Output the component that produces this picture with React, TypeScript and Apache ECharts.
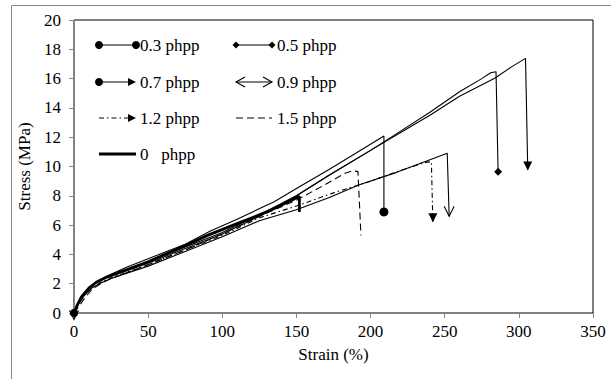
import { useEffect, useRef } from 'react';
import * as echarts from 'echarts';

// ---- data (strain %, stress MPa) ----
const strain03 = [0, 2, 5, 10, 15, 22, 35, 50, 75, 92, 110, 135, 150, 172, 190, 209, 209];
const stress03 = [0, 0.5, 1.1, 1.7, 2.1, 2.5, 3.1, 3.7, 4.7, 5.6, 6.4, 7.6, 8.5, 9.8, 10.9, 12.08, 6.9];

const strain05 = [0, 2, 5, 10, 15, 22, 50, 75, 100, 125, 150, 172, 200, 220, 240, 260, 275, 281, 284.6, 286];
const stress05 = [0, 0.5, 1.1, 1.7, 2.1, 2.4, 3.4, 4.4, 5.4, 6.6, 8.0, 9.4, 11.1, 12.4, 13.7, 15.1, 16.0, 16.4, 16.47, 9.65];

const strain07 = [0, 2, 5, 10, 15, 22, 50, 75, 100, 125, 150, 172, 200, 220, 240, 260, 284, 295, 304.5, 306];
const stress07 = [0, 0.5, 1.1, 1.7, 2.1, 2.45, 3.5, 4.5, 5.5, 6.7, 8.0, 9.4, 11.1, 12.3, 13.5, 14.8, 16.04, 16.8, 17.38, 9.76];

const strain09 = [0, 3, 7, 12, 18, 25, 50, 75, 100, 125, 150, 172.6, 192, 217.6, 251.7, 253];
const stress09 = [0, 0.6, 1.2, 1.7, 2.05, 2.35, 3.2, 4.2, 5.2, 6.3, 7.05, 7.9, 8.74, 9.6, 10.9, 6.6];

const strain12 = [0, 3, 7, 12, 18, 25, 50, 75, 100, 125, 150, 175, 200, 218, 230, 237, 241, 242];
const stress12 = [0, 0.6, 1.2, 1.7, 2.1, 2.4, 3.3, 4.3, 5.3, 6.5, 7.3, 8.2, 9.0, 9.65, 10.05, 10.28, 10.33, 6.23];

const strain15 = [0, 3, 7, 12, 18, 25, 50, 75, 100, 125, 150, 170, 182, 188, 191.5, 193.5];
const stress15 = [0, 0.4, 1.0, 1.6, 2.0, 2.35, 3.3, 4.3, 5.4, 6.6, 7.7, 8.8, 9.5, 9.71, 9.65, 5.3];

const strain00 = [0, 2, 5, 10, 15, 22, 50, 75, 90, 110, 130, 152, 152];
const stress00 = [0, 0.5, 1.1, 1.7, 2.1, 2.45, 3.5, 4.6, 5.3, 6.1, 6.9, 7.96, 6.9];

const seriesNames = ['0.3 phpp', '0.5 phpp', '0.7 phpp', '0.9 phpp', '1.2 phpp', '1.5 phpp', '0   phpp'];
const xTicks = { min: 0, max: 350, interval: 50 };
const yTicks = { min: 0, max: 20, interval: 2 };

const FONT = "'Liberation Serif', 'Times New Roman', serif";
const FS = 17;
const DOWN_TRI = 'path://M0,0L10,0L5,10Z';
const OPEN_V = 'path://M0,0L5,10L10,0';

type Marker = { symbol: string; size: number; offset?: [number, number]; open?: boolean };

function build(xs: number[], ys: number[], start?: Marker, end?: Marker) {
  return xs.map((x, i) => {
    const m = i === 0 ? start : i === xs.length - 1 ? end : undefined;
    if (!m) return [x, ys[i]];
    return {
      value: [x, ys[i]],
      symbol: m.symbol,
      symbolSize: m.size,
      symbolKeepAspect: true,
      symbolOffset: m.offset || [0, 0],
      itemStyle: m.open
        ? { color: 'none', borderColor: '#000', borderWidth: 1.1 }
        : { color: '#000', borderWidth: 0 },
    };
  });
}

function lineSeries(name: string, data: any[], width: number, type: any) {
  return {
    type: 'line',
    name,
    data,
    symbol: 'none',
    showSymbol: true,
    smooth: false,
    lineStyle: { color: '#000', width, type },
    itemStyle: { color: '#000' },
    z: 3,
  };
}

// legend drawing helpers (graphic elements)
function legendLine(x1: number, x2: number, y: number, width = 1, dash?: number[]) {
  return {
    type: 'line',
    shape: { x1, y1: y, x2, y2: y },
    style: { stroke: '#000', lineWidth: width, lineDash: dash },
  };
}
function dot(cx: number, cy: number, r = 4) {
  return { type: 'circle', shape: { cx, cy, r }, style: { fill: '#000' } };
}
function diamond(cx: number, cy: number, r = 3.5) {
  return {
    type: 'polygon',
    shape: { points: [[cx - r, cy], [cx, cy - r], [cx + r, cy], [cx, cy + r]] },
    style: { fill: '#000' },
  };
}
function arrowRight(tx: number, y: number) {
  return {
    type: 'polygon',
    shape: { points: [[tx, y], [tx - 8, y - 4], [tx - 8, y + 4]] },
    style: { fill: '#000' },
  };
}
function openArrow(tx: number, y: number, dir: number) {
  return {
    type: 'polyline',
    shape: { points: [[tx - dir * 9, y - 5], [tx, y], [tx - dir * 9, y + 5]] },
    style: { stroke: '#000', lineWidth: 1.1, fill: null },
  };
}
function label(x: number, y: number, text: string) {
  return {
    type: 'text',
    x,
    y,
    style: { text, fontSize: FS, fontFamily: FONT, fill: '#000', verticalAlign: 'middle', align: 'left' },
  };
}

export default function App() {
  const ref = useRef<HTMLDivElement>(null);
  useEffect(() => {
    if (!ref.current) return;
    const chart = echarts.init(ref.current, undefined, { renderer: 'svg' });
    const r1 = 45, r2 = 82, r3 = 118, r4 = 154;
    const c1a = 99, c1b = 136, c2a = 236, c2b = 272;
    const t1 = 140, t2 = 277;
    chart.setOption({
      animation: false,
      backgroundColor: '#fff',
      textStyle: { fontFamily: FONT },
      grid: {
        left: 74,
        top: 20,
        right: 18,
        bottom: 66,
        show: true,
        borderColor: '#000',
        borderWidth: 1,
        backgroundColor: 'transparent',
      },
      xAxis: {
        type: 'value',
        min: xTicks.min,
        max: xTicks.max,
        interval: xTicks.interval,
        name: 'Strain (%)',
        nameLocation: 'middle',
        nameGap: 33,
        nameTextStyle: { fontFamily: FONT, fontSize: FS, color: '#000' },
        axisLine: { show: true, onZero: false, lineStyle: { color: '#868686', width: 1 } },
        axisTick: { show: true, inside: false, length: 5, lineStyle: { color: '#868686' } },
        axisLabel: { fontFamily: FONT, fontSize: FS, color: '#000', margin: 10 },
        splitLine: { show: false },
      },
      yAxis: {
        type: 'value',
        min: yTicks.min,
        max: yTicks.max,
        interval: yTicks.interval,
        name: 'Stress (MPa)',
        nameLocation: 'middle',
        nameGap: 30,
        nameTextStyle: { fontFamily: FONT, fontSize: FS, color: '#000' },
        axisLine: { show: true, onZero: false, lineStyle: { color: '#868686', width: 1 } },
        axisTick: { show: true, inside: false, length: 5, lineStyle: { color: '#868686' } },
        axisLabel: { fontFamily: FONT, fontSize: FS, color: '#000', margin: 13 },
        splitLine: { show: false },
      },
      series: [
        lineSeries(seriesNames[0], build(strain03, stress03,
          { symbol: 'circle', size: 8 }, { symbol: 'circle', size: 9 }), 1.1, 'solid'),
        lineSeries(seriesNames[1], build(strain05, stress05,
          { symbol: 'diamond', size: 7 }, { symbol: 'diamond', size: 8 }), 1.1, 'solid'),
        lineSeries(seriesNames[2], build(strain07, stress07,
          { symbol: 'circle', size: 8 }, { symbol: DOWN_TRI, size: 9, offset: [0, -4] }), 1.1, 'solid'),
        lineSeries(seriesNames[3], build(strain09, stress09,
          { symbol: OPEN_V, size: 9, offset: [0, 2], open: true },
          { symbol: OPEN_V, size: 10, offset: [0, -5], open: true }), 1.1, 'solid'),
        lineSeries(seriesNames[4], build(strain12, stress12,
          undefined, { symbol: DOWN_TRI, size: 9, offset: [0, -4] }), 1.1, [5, 3, 1.5, 3]),
        lineSeries(seriesNames[5], build(strain15, stress15), 1.1, [7, 4]),
        lineSeries(seriesNames[6], build(strain00, stress00), 2.8, 'solid'),
      ],
      graphic: [
        {
          type: 'rect',
          z: -10,
          shape: { x: 11.5, y: 5.5, width: 800, height: 600 },
          style: { fill: 'none', stroke: '#878787', lineWidth: 1 },
          silent: true,
        },
        {
          type: 'group',
          children: [
            // row 1
            legendLine(c1a, c1b, r1), dot(c1a, r1), dot(c1b, r1), label(t1, r1, seriesNames[0]),
            legendLine(c2a, c2b, r1), diamond(c2a, r1), diamond(c2b, r1), label(t2, r1, seriesNames[1]),
            // row 2
            legendLine(c1a, c1b - 4, r2), dot(c1a, r2), arrowRight(c1b, r2), label(t1, r2, seriesNames[2]),
            legendLine(c2a, c2b, r2), openArrow(c2a, r2, -1), openArrow(c2b, r2, 1), label(t2, r2, seriesNames[3]),
            // row 3
            legendLine(c1a, c1b - 4, r3, 1, [5, 3, 1.5, 3]), arrowRight(c1b, r3), label(t1, r3, seriesNames[4]),
            legendLine(c2a, c2b, r3, 1, [7, 4]), label(t2, r3, seriesNames[5]),
            // row 4
            legendLine(c1a, c1b, r4, 3), label(t1, r4, seriesNames[6]),
          ],
        },
      ],
    });
    return () => chart.dispose();
  }, []);
  return (
    <div
      ref={ref}
      style={{ position: 'absolute', left: 0, top: 0, width: 611, height: 379 }}
    />
  );
}
